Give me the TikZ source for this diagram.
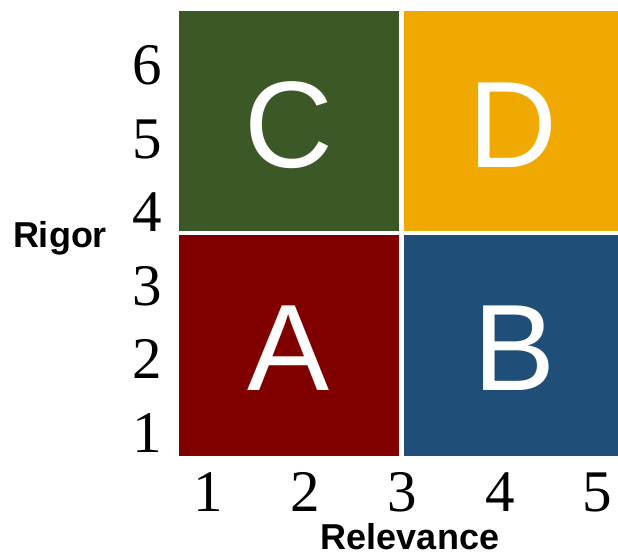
\documentclass[tikz,border=0pt]{standalone}
\usepackage{fontspec}
\setmainfont{Liberation Serif}
\newfontfamily\arialfont{Liberation Sans}
\definecolor{cgreen}{RGB}{60,88,38}
\definecolor{cgold}{RGB}{240,169,0}
\definecolor{cred}{RGB}{128,0,0}
\definecolor{cblue}{RGB}{31,78,121}
\begin{document}
\begin{tikzpicture}[x=1pt,y=-1pt,
  quad/.style={inner sep=0pt, outer sep=0pt},
  bigletter/.style={text=white, font=\arialfont\fontsize{123}{123}\selectfont, anchor=base, inner sep=0pt},
  tick/.style={font=\fontsize{59}{59}\selectfont, inner sep=0pt},
  axlabel/.style={font=\arialfont\bfseries\fontsize{36}{36}\selectfont, anchor=base, inner sep=0pt}]
\useasboundingbox (0,0) rectangle (618,556);
\fill[cgreen] (179,11) rectangle (399,231);
\fill[cgold] (403.5,11) rectangle (618,231);
\fill[cred] (179,235) rectangle (399,456);
\fill[cblue] (403.5,235) rectangle (618,456);
\node[bigletter] (C) at (289,168) {C};
\node[bigletter] (D) at (513,168) {D};
\node[bigletter] (A) at (289,390) {A};
\node[bigletter] (B) at (515,390) {B};
\foreach \k/\x in {1/208,2/305,3/402,4/500,5/597}
  \node[tick] (x\k) at (\x,492) {\k};
\foreach \k in {1,...,6}
  \node[tick] (y\k) at (147,{432.7-73.4*(\k-1)}) {\k};
\node[axlabel] (rigor) at (60,247) {Rigor};
\node[axlabel] (relev) at (410,549) {Relevance};
\end{tikzpicture}
\end{document}
